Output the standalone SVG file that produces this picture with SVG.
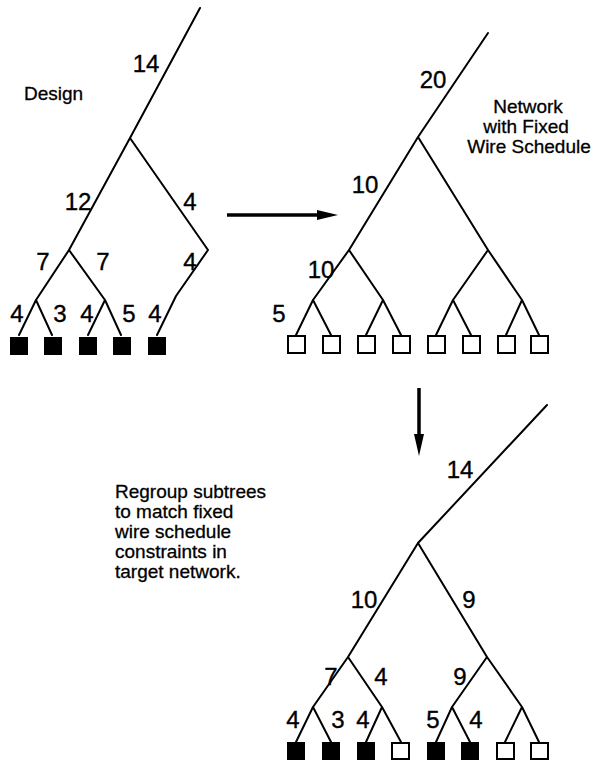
<svg xmlns="http://www.w3.org/2000/svg" width="593" height="761" viewBox="0 0 593 761">
<style>
.e{fill:none;stroke:#000;stroke-width:2;stroke-linecap:round;stroke-linejoin:round}
.n{font-family:"Liberation Sans",Arial,sans-serif;font-size:24px;fill:#000;stroke:#000;stroke-width:0.35;text-anchor:middle}
.t{font-family:"Liberation Sans",Arial,sans-serif;font-size:19px;fill:#000;stroke:#000;stroke-width:0.3}
.f{fill:#000}
.o{fill:#fff;stroke:#000;stroke-width:2}
.a{stroke:#000;stroke-width:3.5;fill:none}
</style>
<rect width="593" height="761" fill="#fff"/>

<g id="connectors">
  <!-- Design tree -->
  <path class="e" d="M200,8 L130,138 M130,138 L69,250 M130,138 L208,250 L176,296 L157,335 M69,250 L36,300 M69,250 L105,300 M36,300 L19,335 M36,300 L52,335 M105,300 L88,335 M105,300 L121,335"/>
  <!-- Network tree -->
  <path class="e" d="M488,33 L418,137 M418,137 L349,250 M418,137 L488,250 M349,250 L313,300 M349,250 L383,300 M488,250 L453,300 M488,250 L522,300 M313,300 L296,335 M313,300 L331,335 M383,300 L366,335 M383,300 L401,335 M453,300 L436,335 M453,300 L471,335 M522,300 L506,335 M522,300 L539,335"/>
  <!-- Regrouped tree -->
  <path class="e" d="M547,405 L418,543 M418,543 L348,657 M418,543 L487,657 M348,657 L313,707 M348,657 L382,707 M487,657 L452,707 M487,657 L522,707 M313,707 L296,742 M313,707 L331,742 M382,707 L366,742 M382,707 L401,742 M452,707 L436,742 M452,707 L470,742 M522,707 L505,742 M522,707 L539,742"/>
  <!-- transformation arrows -->
  <line class="a" x1="227" y1="215" x2="320" y2="215"/>
  <polygon class="f" points="317,210 338,215 317,220"/>
  <line class="a" x1="419" y1="388" x2="419" y2="438"/>
  <polygon class="f" points="414,434 419,456 424,434"/>
</g>

<g id="design-tree">
  <text class="t" x="24" y="100">Design</text>
  <text class="n" x="146" y="72">14</text>
  <text class="n" x="78" y="210">12</text>
  <text class="n" x="190" y="210">4</text>
  <text class="n" x="43" y="270">7</text>
  <text class="n" x="103" y="270">7</text>
  <text class="n" x="190" y="270">4</text>
  <text class="n" x="17" y="322">4</text>
  <text class="n" x="60" y="322">3</text>
  <text class="n" x="87" y="322">4</text>
  <text class="n" x="129" y="322">5</text>
  <text class="n" x="155" y="322">4</text>
  <g id="d-leaf1"><rect class="f" x="10" y="337" width="18" height="18"/></g>
  <g id="d-leaf2"><rect class="f" x="44" y="337" width="18" height="18"/></g>
  <g id="d-leaf3"><rect class="f" x="79" y="337" width="18" height="18"/></g>
  <g id="d-leaf4"><rect class="f" x="113" y="337" width="18" height="18"/></g>
  <g id="d-leaf5"><rect class="f" x="148" y="337" width="18" height="18"/></g>
</g>

<g id="network-tree">
  <text class="t" text-anchor="middle" x="528" y="113">Network</text>
  <text class="t" text-anchor="middle" x="526" y="133">with Fixed</text>
  <text class="t" text-anchor="middle" x="529" y="153">Wire Schedule</text>
  <text class="n" x="433" y="88">20</text>
  <text class="n" x="365" y="193">10</text>
  <text class="n" x="321" y="278">10</text>
  <text class="n" x="279" y="322">5</text>
  <g id="n-leaf1"><rect class="o" x="288" y="336" width="17" height="17"/></g>
  <g id="n-leaf2"><rect class="o" x="323" y="336" width="17" height="17"/></g>
  <g id="n-leaf3"><rect class="o" x="358" y="336" width="17" height="17"/></g>
  <g id="n-leaf4"><rect class="o" x="393" y="336" width="17" height="17"/></g>
  <g id="n-leaf5"><rect class="o" x="428" y="336" width="17" height="17"/></g>
  <g id="n-leaf6"><rect class="o" x="463" y="336" width="17" height="17"/></g>
  <g id="n-leaf7"><rect class="o" x="498" y="336" width="17" height="17"/></g>
  <g id="n-leaf8"><rect class="o" x="531" y="336" width="17" height="17"/></g>
</g>

<g id="regroup-tree">
  <text class="t" x="115" y="498">Regroup subtrees</text>
  <text class="t" x="115" y="518">to match fixed</text>
  <text class="t" x="115" y="538">wire schedule</text>
  <text class="t" x="115" y="558">constraints in</text>
  <text class="t" x="115" y="578">target network.</text>
  <text class="n" x="460" y="478">14</text>
  <text class="n" x="364" y="608">10</text>
  <text class="n" x="469" y="608">9</text>
  <text class="n" x="331" y="685">7</text>
  <text class="n" x="381" y="685">4</text>
  <text class="n" x="460" y="685">9</text>
  <text class="n" x="293" y="728">4</text>
  <text class="n" x="338" y="728">3</text>
  <text class="n" x="363" y="728">4</text>
  <text class="n" x="433" y="728">5</text>
  <text class="n" x="476" y="728">4</text>
  <g id="r-leaf1"><rect class="f" x="287" y="742" width="18" height="18"/></g>
  <g id="r-leaf2"><rect class="f" x="322" y="742" width="18" height="18"/></g>
  <g id="r-leaf3"><rect class="f" x="357" y="742" width="18" height="18"/></g>
  <g id="r-leaf4"><rect class="o" x="392" y="743" width="17" height="16"/></g>
  <g id="r-leaf5"><rect class="f" x="427" y="742" width="18" height="18"/></g>
  <g id="r-leaf6"><rect class="f" x="461" y="742" width="18" height="18"/></g>
  <g id="r-leaf7"><rect class="o" x="497" y="743" width="17" height="16"/></g>
  <g id="r-leaf8"><rect class="o" x="531" y="743" width="17" height="16"/></g>
</g>
</svg>
